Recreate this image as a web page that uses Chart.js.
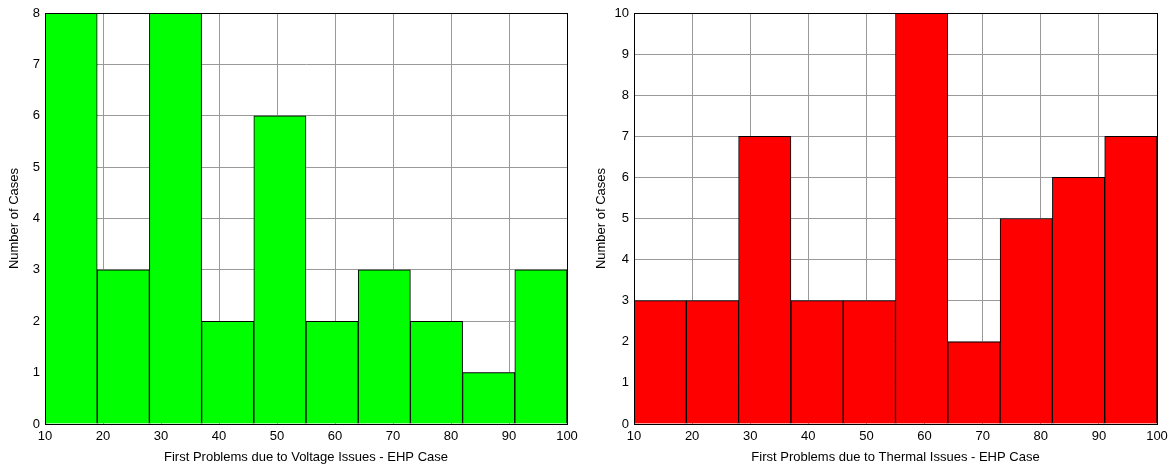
<!DOCTYPE html>
<html lang="en">
<head>
<style>
    body { margin: 0; background: #fff; }
    .wrap { position: absolute; top: 0; width: 587px; height: 468px; }
    #leftBox { left: 0; }
    #rightBox { left: 587px; }
</style>
</head>
<body>
    <div class="wrap" id="leftBox"><canvas id="voltChart"></canvas></div>
    <div class="wrap" id="rightBox"><canvas id="thermChart"></canvas></div>

    <script src="https://cdn.jsdelivr.net/npm/chart.js@4.4.0/dist/chart.umd.min.js"></script>
    <script>
        // bin centres (bins are 9 wide, from 10 to 100)
        var binCenters = [14.5, 23.5, 32.5, 41.5, 50.5, 59.5, 68.5, 77.5, 86.5, 95.5];
        var voltageCounts = [8, 3, 8, 2, 6, 2, 3, 2, 1, 3];
        var thermalCounts = [3, 3, 7, 3, 3, 10, 2, 5, 6, 7];
        var voltageLabel = 'First Problems due to Voltage Issues - EHP Case';
        var thermalLabel = 'First Problems due to Thermal Issues - EHP Case';
        var yLabel = 'Number of Cases';

        Chart.defaults.font.family = '"Liberation Sans", Arial, sans-serif';
        Chart.defaults.font.size = 13;
        Chart.defaults.color = '#000';

        // black box round the plot area, like matlab's axes
        var frame = {
            id: 'frame',
            afterDatasetsDraw: function (chart) {
                var a = chart.chartArea, c = chart.ctx;
                c.save();
                c.strokeStyle = '#000';
                c.lineWidth = 1;
                c.strokeRect(Math.round(a.left) + 0.5, Math.round(a.top) + 0.5,
                    Math.round(a.right - a.left), Math.round(a.bottom - a.top));
                c.restore();
            }
        };

        function makeHist(id, counts, color, yMax, xTitle, yWidth, padRight) {
            var pts = [];
            for (var i = 0; i < counts.length; i++) {
                pts.push({ x: binCenters[i], y: counts[i] });
            }
            return new Chart(document.getElementById(id), {
                type: 'bar',
                data: {
                    datasets: [{
                        data: pts,
                        backgroundColor: color,
                        borderColor: '#000',
                        borderWidth: 1,
                        barPercentage: 1,
                        categoryPercentage: 1
                    }]
                },
                options: {
                    responsive: true,
                    maintainAspectRatio: false,
                    animation: false,
                    layout: { padding: { top: 13, right: padRight, left: 0, bottom: 0 } },
                    plugins: { legend: { display: false }, tooltip: { enabled: false } },
                    scales: {
                        x: {
                            type: 'linear',
                            min: 10, max: 100,
                            offset: false,
                            ticks: { stepSize: 10, padding: 5, maxRotation: 0 },
                            grid: { color: '#999', drawTicks: false, offset: false },
                            border: { color: '#000' },
                            title: { display: true, text: xTitle, padding: { top: 2, bottom: 3 } },
                            afterFit: function (s) { s.height = 44; }
                        },
                        y: {
                            min: 0, max: yMax,
                            ticks: { stepSize: 1, padding: 5 },
                            grid: { color: '#999', drawTicks: false },
                            border: { color: '#000' },
                            title: { display: true, text: yLabel, padding: { top: 7, bottom: 0 } },
                            afterFit: function (s) { s.width = yWidth; }
                        }
                    }
                },
                plugins: [frame]
            });
        }

        makeHist('voltChart', voltageCounts, '#00ff00', 8, voltageLabel, 45, 20);
        makeHist('thermChart', thermalCounts, '#ff0000', 10, thermalLabel, 47, 17);
    </script>
</body>
</html>
